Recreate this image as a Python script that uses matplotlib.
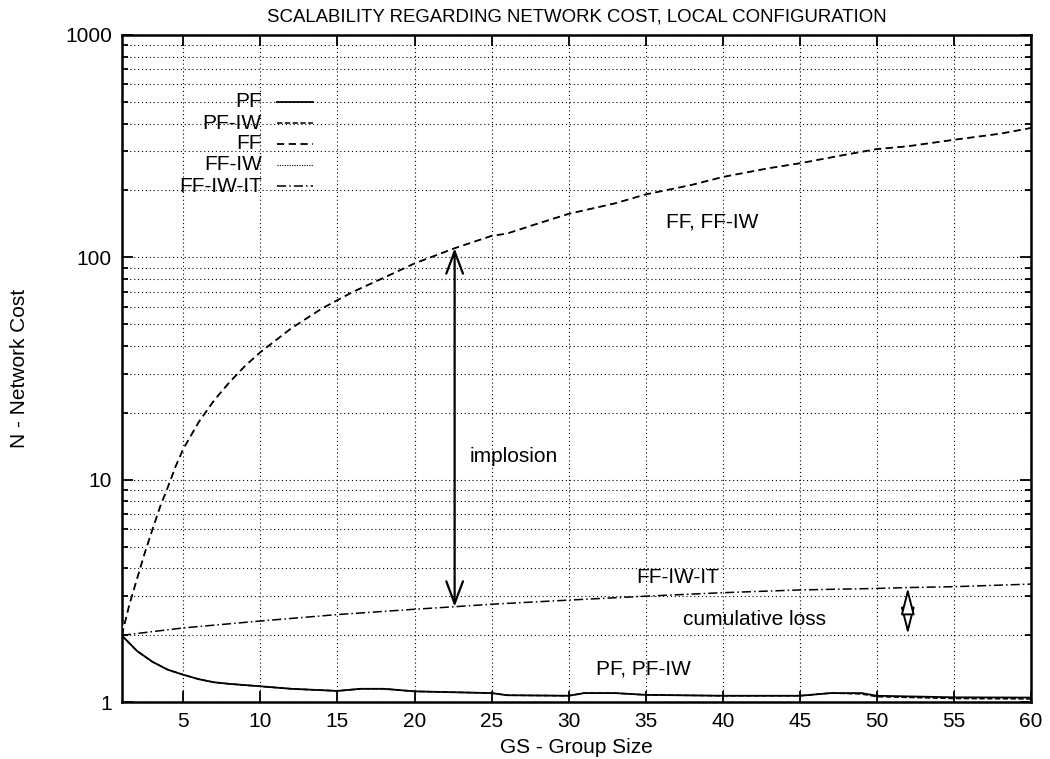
import matplotlib
matplotlib.use("Agg")
import matplotlib.pyplot as plt
from matplotlib.lines import Line2D
from matplotlib.ticker import FixedLocator, NullFormatter, LogLocator

plt.rcParams['font.family'] = ['Liberation Sans', 'DejaVu Sans']

# ---- data ----
ff_x = [1, 1.5, 2, 2.5, 3, 3.5, 4, 4.5, 5, 6, 7, 8, 9, 10, 12, 14, 16, 18, 20,
        22.6, 25, 26, 28, 30, 33, 35, 38, 40, 43, 45, 48, 50, 52, 55, 58, 60]
ff_y = [2, 2.75, 3.6, 4.7, 6.0, 7.6, 9.3, 11.5, 13.8, 18.2, 22.8, 27.5, 32.5,
        37.5, 48, 59, 70, 81, 94, 110, 125, 128, 142, 157, 175, 192, 212, 230,
        252, 265, 290, 307, 316, 338, 360, 382]

ffiw_x = ff_x
ffiw_y = ff_y

pf_x = [1, 2, 3, 4, 5, 6, 7, 8, 10, 12, 15, 16.5, 18, 20, 25, 26, 30, 31, 33,
        35, 40, 45, 47, 49, 50, 55, 60]
pf_y = [2, 1.70, 1.52, 1.40, 1.33, 1.27, 1.23, 1.21, 1.18, 1.15, 1.125, 1.15,
        1.15, 1.12, 1.10, 1.076, 1.07, 1.10, 1.10, 1.08, 1.07, 1.07, 1.10,
        1.10, 1.07, 1.053, 1.05]

pfiw_x = [1, 2, 3, 4, 5, 6, 7, 8, 10, 12, 15, 16.5, 18, 20, 25, 26, 30, 31, 33,
          35, 40, 45, 47, 49, 50, 55, 60]
pfiw_y = [2, 1.70, 1.52, 1.40, 1.33, 1.27, 1.23, 1.21, 1.18, 1.15, 1.125, 1.15,
          1.15, 1.12, 1.10, 1.076, 1.07, 1.10, 1.10, 1.08, 1.07, 1.07, 1.10,
          1.09, 1.06, 1.04, 1.035]

ffiwit_x = [1, 5, 10, 15, 20, 22.6, 25, 30, 35, 40, 45, 50, 52, 55, 60]
ffiwit_y = [2.0, 2.16, 2.32, 2.48, 2.62, 2.69, 2.76, 2.88, 3.0, 3.11, 3.2,
            3.25, 3.28, 3.31, 3.4]

legend_labels = ['PF', 'PF-IW', 'FF', 'FF-IW', 'FF-IW-IT']
x_ticks = [5, 10, 15, 20, 25, 30, 35, 40, 45, 50, 55, 60]
y_ticks = [1, 10, 100, 1000]
y_tick_labels = ['1', '10', '100', '1000']

title = 'SCALABILITY REGARDING NETWORK COST, LOCAL CONFIGURATION'
xlabel = 'GS - Group Size'
ylabel = 'N - Network Cost'

FS = 15

# ---- figure ----
fig = plt.figure(figsize=(10.5, 7.59), dpi=100)
ax = fig.add_axes([0.1159, 0.0747, 0.982 - 0.1159, 0.9539 - 0.0747])
ax.set_yscale('log')
ax.set_xlim(1, 60)
ax.set_ylim(1, 1000)

styles = {
    'PF': dict(color='black', lw=1.3, linestyle='-'),
    'PF-IW': dict(color='black', lw=1.1, linestyle=(0, (3.5, 1.6))),
    'FF': dict(color='black', lw=1.3, linestyle=(0, (4, 2.5))),
    'FF-IW': dict(color='black', lw=0.8, linestyle=(0, (1, 1.2))),
    'FF-IW-IT': dict(color='black', lw=1.1, linestyle=(0, (6, 2, 1, 2))),
}

ax.plot(ffiw_x, ffiw_y, zorder=3, **styles['FF-IW'])
ax.plot(ff_x, ff_y, zorder=4, gapcolor='white', **styles['FF'])
ax.plot(pfiw_x, pfiw_y, zorder=3, **styles['PF-IW'])
ax.plot(pf_x, pf_y, zorder=4, **styles['PF'])
ax.plot(ffiwit_x, ffiwit_y, zorder=4, **styles['FF-IW-IT'])

# grid
ax.xaxis.set_major_locator(FixedLocator(x_ticks))
ax.yaxis.set_major_locator(FixedLocator(y_ticks))
ax.yaxis.set_major_formatter(plt.FixedFormatter(y_tick_labels))
ax.yaxis.set_minor_locator(LogLocator(base=10, subs=range(2, 10)))
ax.yaxis.set_minor_formatter(NullFormatter())
ax.grid(True, which='major', axis='both', color='black', linestyle=(0, (1, 2.5)), lw=0.8)
ax.grid(True, which='minor', axis='y', color='black', linestyle=(0, (1, 2.5)), lw=0.8)

ax.tick_params(which='both', direction='in', top=True, right=True, labelsize=FS,
               width=1.3)
ax.tick_params(which='major', length=8, pad=7)
ax.tick_params(which='minor', length=4)
for s in ax.spines.values():
    s.set_linewidth(1.8)

ax.set_title(title, fontsize=13.4, pad=10)
ax.set_xlabel(xlabel, fontsize=FS, labelpad=5)
ax.set_ylabel(ylabel, fontsize=FS, labelpad=26)

# manual legend (gnuplot style)
leg_y = [0.8996, 0.8681, 0.8367, 0.8052, 0.7737]
for lab, yy in zip(legend_labels, leg_y):
    ax.text(0.154, yy, lab, transform=ax.transAxes, ha='right', va='center',
            fontsize=FS, zorder=6)
    st = dict(styles[lab])
    ax.add_line(Line2D([0.171, 0.21], [yy, yy], transform=ax.transAxes, zorder=6, **st))

# annotations
ax.annotate('', xy=(22.6, 110), xytext=(22.6, 2.69),
            arrowprops=dict(arrowstyle='<->, head_length=0.8, head_width=0.3',
                            color='black', lw=1.6, shrinkA=0, shrinkB=0,
                            mutation_scale=20), zorder=5)
ax.annotate('', xy=(52, 3.28), xytext=(52, 2.02),
            arrowprops=dict(arrowstyle='<|-|>, head_length=1.65, head_width=0.42',
                            fc='white', ec='black', lw=1.4, shrinkA=0, shrinkB=0,
                            mutation_scale=10), zorder=5)

ax.text(23.6, 12.7, 'implosion', fontsize=FS, va='center', ha='left')
ax.text(36.3, 144, 'FF, FF-IW', fontsize=FS, va='center', ha='left')
ax.text(34.4, 3.65, 'FF-IW-IT', fontsize=FS, va='center', ha='left')
ax.text(37.4, 2.36, 'cumulative loss', fontsize=FS, va='center', ha='left')
ax.text(31.8, 1.415, 'PF, PF-IW', fontsize=FS, va='center', ha='left')

fig.savefig('out.png', dpi=100)
